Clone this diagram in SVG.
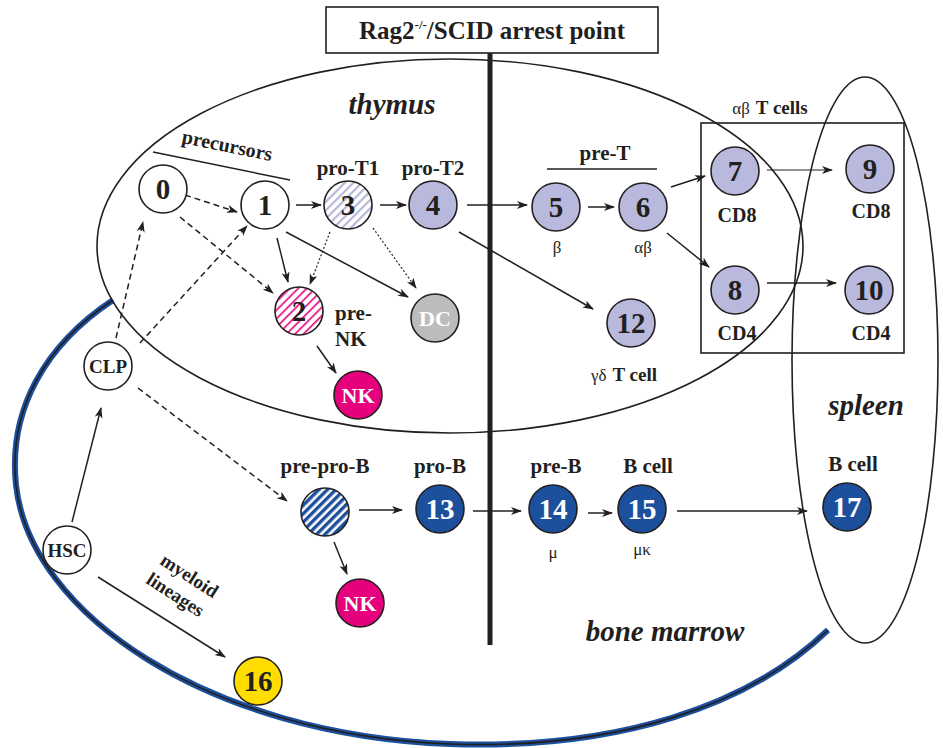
<svg xmlns="http://www.w3.org/2000/svg" width="943" height="748" viewBox="0 0 943 748">
<defs>
<marker id="ah" markerWidth="12" markerHeight="10" refX="10" refY="4" orient="auto" markerUnits="userSpaceOnUse">
<path d="M0,0 L11,4 L0,8 L3,4 z" fill="#231f20"/>
</marker>
<pattern id="hl" patternUnits="userSpaceOnUse" width="6" height="6" patternTransform="rotate(-45)">
<rect width="6" height="6" fill="#fff"/><rect width="6" height="2.2" fill="#b6b7da"/>
</pattern>
<pattern id="hm" patternUnits="userSpaceOnUse" width="6" height="6" patternTransform="rotate(-45)">
<rect width="6" height="6" fill="#fff"/><rect width="6" height="1.6" fill="#e6007e"/>
</pattern>
<pattern id="hb" patternUnits="userSpaceOnUse" width="6" height="6" patternTransform="rotate(-45)">
<rect width="6" height="6" fill="#fff"/><rect width="6" height="3.4" fill="#1c4f9c"/>
</pattern>
</defs>

<g id="compartments">
<path d="M113,300 C45,345 8,410 16,485 C30,615 210,735 450,744 C620,750 750,705 828,630" fill="none" stroke="#1c4f9c" stroke-width="6"/>
<path d="M113,300 C45,345 8,410 16,485 C30,615 210,735 450,744 C620,750 750,705 828,630" fill="none" stroke="#231f20" stroke-width="1.6"/>
<ellipse cx="450" cy="246" rx="353" ry="187" fill="none" stroke="#231f20" stroke-width="1.6"/>
<ellipse cx="865" cy="360" rx="73" ry="283" fill="none" stroke="#231f20" stroke-width="1.6"/>
<g font-family="Liberation Serif, serif" font-weight="bold" font-style="italic" font-size="29" text-anchor="middle" fill="#231f20">
<text font-family="Liberation Serif, serif" x="392" y="114">thymus</text>
<text font-family="Liberation Serif, serif" x="866" y="415">spleen</text>
<text font-family="Liberation Serif, serif" x="665" y="641">bone marrow</text>
</g>
</g>

<g id="arrest">
<rect x="326" y="7" width="332" height="46" fill="#fff" stroke="#231f20" stroke-width="1.6"/>
<text font-family="Liberation Serif, serif" font-weight="bold" fill="#231f20" x="492" y="39" font-size="25" text-anchor="middle">Rag2<tspan font-size="13" dy="-10">-/-</tspan><tspan dy="10">/SCID arrest point</tspan></text>
<line x1="490" y1="53" x2="490" y2="645" stroke="#231f20" stroke-width="5"/>
</g>

<g id="labels">
<line x1="153" y1="152" x2="290" y2="180" stroke="#231f20" stroke-width="1.5"/>
<line x1="547" y1="169" x2="657" y2="169" stroke="#231f20" stroke-width="1.6"/>
<rect x="701" y="123" width="203" height="230" fill="none" stroke="#231f20" stroke-width="1.6"/>
<g font-family="Liberation Serif, serif" font-weight="bold" font-size="21" text-anchor="middle" fill="#231f20">
<text font-family="Liberation Serif, serif" font-size="20" transform="translate(226,152) rotate(11.5)">precursors</text>
<text font-family="Liberation Serif, serif" x="348" y="175">pro-T1</text>
<text font-family="Liberation Serif, serif" x="433" y="175">pro-T2</text>
<text font-family="Liberation Serif, serif" text-anchor="start" x="335" y="320">pre-</text>
<text font-family="Liberation Serif, serif" text-anchor="start" x="335" y="346">NK</text>
<text font-family="Liberation Serif, serif" x="605" y="160">pre-T</text>
<text font-family="Liberation Serif, serif" font-size="20" x="737" y="222">CD8</text>
<text font-family="Liberation Serif, serif" font-size="20" x="871" y="218">CD8</text>
<text font-family="Liberation Serif, serif" font-size="20" x="737" y="340">CD4</text>
<text font-family="Liberation Serif, serif" font-size="20" x="871" y="340">CD4</text>
<text font-family="Liberation Serif, serif" x="325" y="473">pre-pro-B</text>
<text font-family="Liberation Serif, serif" x="440" y="473">pro-B</text>
<text font-family="Liberation Serif, serif" x="556" y="473">pre-B</text>
<text font-family="Liberation Serif, serif" x="648" y="473">B cell</text>
<text font-family="Liberation Serif, serif" x="853" y="471">B cell</text>
<text font-family="Liberation Serif, serif" font-size="19" transform="translate(186,581) rotate(33)">myeloid</text>
<text font-family="Liberation Serif, serif" font-size="19" transform="translate(172,600) rotate(33)">lineages</text>
</g>
<g font-family="Liberation Serif, serif" font-size="17" text-anchor="middle" fill="#231f20">
<text font-family="Liberation Serif, serif" x="557" y="253">β</text>
<text font-family="Liberation Serif, serif" x="643" y="253">αβ</text>
<text font-family="Liberation Serif, serif" x="770" y="114"><tspan>αβ</tspan><tspan font-weight="bold" font-size="19" dx="6">T cells</tspan></text>
<text font-family="Liberation Serif, serif" x="624" y="381"><tspan>γδ</tspan><tspan font-weight="bold" font-size="19" dx="6">T cell</tspan></text>
<text font-family="Liberation Serif, serif" x="553" y="558">μ</text>
<text font-family="Liberation Serif, serif" x="642" y="555">μκ</text>
</g>
</g>

<g id="connectors" stroke="#231f20" stroke-width="1.5" fill="none" marker-end="url(#ah)">
<g stroke-dasharray="6,4">
<line x1="185" y1="195" x2="237" y2="212"/>
<line x1="180" y1="217" x2="273" y2="293"/>
<line x1="116" y1="338" x2="143" y2="222"/>
<line x1="140" y1="343" x2="247" y2="226"/>
<line x1="138" y1="388" x2="287" y2="501"/>
</g>
<g stroke-dasharray="2,2" stroke-width="1.2">
<line x1="330" y1="232" x2="310" y2="284"/>
<line x1="373" y1="228" x2="416" y2="288"/>
</g>
<line x1="72" y1="522" x2="101" y2="408"/>
<line x1="98" y1="577" x2="225" y2="657"/>
<line x1="296" y1="205" x2="321" y2="205"/>
<line x1="380" y1="205" x2="406" y2="205"/>
<line x1="277" y1="238" x2="288" y2="282"/>
<line x1="286" y1="232" x2="408" y2="297"/>
<line x1="317" y1="346" x2="336" y2="373"/>
<line x1="467" y1="205" x2="527" y2="205"/>
<line x1="459" y1="232" x2="593" y2="309"/>
<line x1="588" y1="207" x2="614" y2="207"/>
<line x1="671" y1="187" x2="705" y2="176"/>
<line x1="667" y1="233" x2="709" y2="267"/>
<line x1="767" y1="170" x2="832" y2="170" stroke-width="1.1"/>
<line x1="767" y1="283" x2="836" y2="283"/>
<line x1="359" y1="510" x2="402" y2="510"/>
<line x1="334" y1="542" x2="347" y2="574"/>
<line x1="473" y1="511" x2="521" y2="511"/>
<line x1="588" y1="513" x2="612" y2="513"/>
<line x1="677" y1="511" x2="807" y2="511"/>
</g>

<g id="nodes" font-family="Liberation Serif, serif" font-weight="bold" font-size="29" text-anchor="middle" fill="#231f20">
<g id="n0"><circle stroke="#231f20" stroke-width="1.6" cx="163" cy="189" r="24" fill="#fff"/><text font-family="Liberation Serif, serif" x="163" y="199">0</text></g>
<g id="n1"><circle stroke="#231f20" stroke-width="1.6" cx="265" cy="205" r="24" fill="#fff"/><text font-family="Liberation Serif, serif" x="265" y="215">1</text></g>
<g id="n3"><circle stroke="#231f20" stroke-width="1.6" cx="348" cy="205" r="24" fill="url(#hl)"/><text font-family="Liberation Serif, serif" x="348" y="215">3</text></g>
<g id="n4"><circle stroke="#231f20" stroke-width="1.6" cx="433" cy="205" r="24" fill="#b8b9dc"/><text font-family="Liberation Serif, serif" x="433" y="215">4</text></g>
<g id="n2"><circle stroke="#231f20" stroke-width="1.6" cx="299" cy="311" r="24" fill="url(#hm)"/><text font-family="Liberation Serif, serif" x="299" y="321">2</text></g>
<g id="nDC"><circle stroke="#231f20" stroke-width="1.6" cx="435" cy="318" r="24" fill="#bbbcbe"/><text font-family="Liberation Serif, serif" font-size="22" fill="#fff" x="435" y="326">DC</text></g>
<g id="nNK1"><circle stroke="#231f20" stroke-width="1.6" cx="358" cy="395" r="24" fill="#e6007e"/><text font-family="Liberation Serif, serif" font-size="22" fill="#fff" x="358" y="403">NK</text></g>
<g id="nCLP"><circle stroke="#231f20" stroke-width="1.6" cx="108" cy="366" r="24" fill="#fff"/><text font-family="Liberation Serif, serif" font-size="19" x="108" y="373">CLP</text></g>
<g id="nHSC"><circle stroke="#231f20" stroke-width="1.6" cx="67" cy="550" r="24" fill="#fff"/><text font-family="Liberation Serif, serif" font-size="19" x="67" y="557">HSC</text></g>
<g id="n16"><circle stroke="#231f20" stroke-width="1.6" cx="258" cy="681" r="24" fill="#ffdd00"/><text font-family="Liberation Serif, serif" x="258" y="691">16</text></g>
<g id="nPreProB"><circle stroke="#231f20" stroke-width="1.6" cx="325" cy="512" r="24" fill="url(#hb)"/></g>
<g id="nNK2"><circle stroke="#231f20" stroke-width="1.6" cx="360" cy="603" r="24" fill="#e6007e"/><text font-family="Liberation Serif, serif" font-size="22" fill="#fff" x="360" y="611">NK</text></g>
<g id="n13"><circle stroke="#231f20" stroke-width="1.6" cx="440" cy="509" r="24" fill="#1c4f9c"/><text font-family="Liberation Serif, serif" fill="#fff" x="440" y="519">13</text></g>
<g id="n14"><circle stroke="#231f20" stroke-width="1.6" cx="553" cy="509" r="24" fill="#1c4f9c"/><text font-family="Liberation Serif, serif" fill="#fff" x="553" y="519">14</text></g>
<g id="n15"><circle stroke="#231f20" stroke-width="1.6" cx="642" cy="509" r="24" fill="#1c4f9c"/><text font-family="Liberation Serif, serif" fill="#fff" x="642" y="519">15</text></g>
<g id="n17"><circle stroke="#231f20" stroke-width="1.6" cx="847" cy="507" r="24" fill="#1c4f9c"/><text font-family="Liberation Serif, serif" fill="#fff" x="847" y="517">17</text></g>
<g id="n5"><circle stroke="#231f20" stroke-width="1.6" cx="556" cy="207" r="24" fill="#b8b9dc"/><text font-family="Liberation Serif, serif" x="556" y="217">5</text></g>
<g id="n6"><circle stroke="#231f20" stroke-width="1.6" cx="643" cy="207" r="24" fill="#b8b9dc"/><text font-family="Liberation Serif, serif" x="643" y="217">6</text></g>
<g id="n7"><circle stroke="#231f20" stroke-width="1.6" cx="735" cy="171" r="24" fill="#b8b9dc"/><text font-family="Liberation Serif, serif" x="735" y="181">7</text></g>
<g id="n8"><circle stroke="#231f20" stroke-width="1.6" cx="735" cy="290" r="24" fill="#b8b9dc"/><text font-family="Liberation Serif, serif" x="735" y="300">8</text></g>
<g id="n9"><circle stroke="#231f20" stroke-width="1.6" cx="870" cy="169" r="24" fill="#b8b9dc"/><text font-family="Liberation Serif, serif" x="870" y="179">9</text></g>
<g id="n10"><circle stroke="#231f20" stroke-width="1.6" cx="869" cy="290" r="24" fill="#b8b9dc"/><text font-family="Liberation Serif, serif" x="869" y="300">10</text></g>
<g id="n12"><circle stroke="#231f20" stroke-width="1.6" cx="631" cy="323" r="24" fill="#b8b9dc"/><text font-family="Liberation Serif, serif" x="631" y="333">12</text></g>
</g>
</svg>
